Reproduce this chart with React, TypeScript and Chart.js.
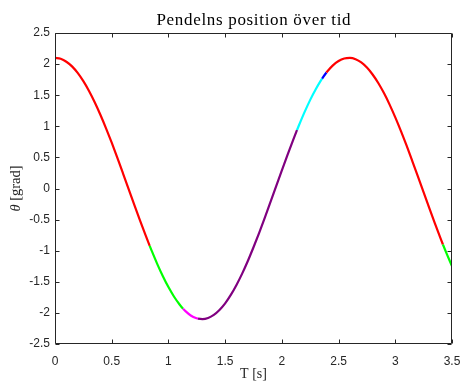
import React, { useEffect, useRef } from "react";
import { Chart, registerables } from "chart.js";

Chart.register(...registerables);

// Time samples [s] (including the points where the colour changes)
const timeS = [
  0, 0.05, 0.1, 0.15, 0.2, 0.25, 0.3, 0.35, 0.4, 0.45, 0.5, 0.55, 0.6, 0.65, 0.7, 0.75, 0.8, 0.835,
  0.85, 0.9, 0.95, 1.0, 1.05, 1.1, 1.129, 1.15, 1.2, 1.25, 1.261, 1.3, 1.35, 1.4, 1.45, 1.5, 1.55,
  1.6, 1.65, 1.7, 1.75, 1.8, 1.85, 1.9, 1.95, 2.0, 2.05, 2.1, 2.134, 2.15, 2.2, 2.25, 2.3, 2.35,
  2.355, 2.393, 2.4, 2.45, 2.5, 2.55, 2.6, 2.65, 2.7, 2.75, 2.8, 2.85, 2.9, 2.95, 3.0, 3.05, 3.1,
  3.15, 3.2, 3.25, 3.3, 3.35, 3.4, 3.42, 3.45, 3.5,
];

// Pendulum angle [grad]
const thetaGrad = [
  2.1, 2.085, 2.038, 1.963, 1.858, 1.725, 1.568, 1.387, 1.186, 0.968, 0.736, 0.492, 0.241, -0.013,
  -0.267, -0.517, -0.759, -0.923, -0.99, -1.207, -1.406, -1.585, -1.74, -1.869, -1.932, -1.971,
  -2.045, -2.087, -2.093, -2.1, -2.081, -2.032, -1.953, -1.846, -1.711, -1.551, -1.369, -1.166,
  -0.945, -0.712, -0.467, -0.216, 0.038, 0.292, 0.542, 0.783, 0.941, 1.013, 1.228, 1.425, 1.601,
  1.754, 1.768, 1.865, 1.881, 1.98, 2.05, 2.09, 2.099, 2.078, 2.026, 1.944, 1.833, 1.696, 1.534,
  1.349, 1.144, 0.923, 0.688, 0.442, 0.191, -0.064, -0.317, -0.566, -0.807, -0.9, -1.035, -1.249,
];

// Colour segments: start time of each segment and its colour
const segmentStarts = [0, 0.835, 1.129, 1.261, 2.134, 2.355, 2.393, 3.42];
const segmentColors = ["#ff0000", "#00ff00", "#ff00ff", "#800080", "#00ffff", "#0000ff", "#ff0000", "#00ff00"];

const xTicks = [0, 0.5, 1, 1.5, 2, 2.5, 3, 3.5];
const yTicks = [-2.5, -2, -1.5, -1, -0.5, 0, 0.5, 1, 1.5, 2, 2.5];

const titleText = "Pendelns position över tid";
const xLabelText = "T [s]";
const yLabelSymbol = "θ";
const yLabelUnit = " [grad]";

function colorAt(x: number): string {
  let c = segmentColors[0];
  for (let i = 0; i < segmentStarts.length; i++) {
    if (x >= segmentStarts[i]) c = segmentColors[i];
  }
  return c;
}

const decorations = {
  id: "decorations",
  afterDraw(chart: any) {
    const { ctx, chartArea: a, scales } = chart;
    ctx.save();
    const L = Math.round(a.left) + 0.5;
    const R = Math.round(a.right) - 0.5;
    const T = Math.round(a.top) + 0.5;
    const B = Math.round(a.bottom) - 0.5;
    ctx.strokeStyle = "#262626";
    ctx.lineWidth = 1;
    ctx.beginPath();
    ctx.rect(L, T, R - L, B - T);
    const tl = 4;
    xTicks.forEach((v) => {
      const px = Math.round(scales.x.getPixelForValue(v)) + 0.5;
      ctx.moveTo(px, B);
      ctx.lineTo(px, B - tl);
      ctx.moveTo(px, T);
      ctx.lineTo(px, T + tl);
    });
    yTicks.forEach((v) => {
      const py = Math.round(scales.y.getPixelForValue(v)) + 0.5;
      ctx.moveTo(L, py);
      ctx.lineTo(L + tl, py);
      ctx.moveTo(R, py);
      ctx.lineTo(R - tl, py);
    });
    ctx.stroke();

    const cx = (a.left + a.right) / 2;
    ctx.fillStyle = "#000000";
    ctx.textAlign = "center";
    ctx.textBaseline = "alphabetic";
    ctx.font = '17px "Liberation Serif"';
    const rawW = ctx.measureText(titleText).width;
    const targetW = 194;
    const spacing = Math.max(0, (targetW - rawW) / (titleText.length - 1));
    (ctx as any).letterSpacing = spacing.toFixed(2) + "px";
    ctx.fillText(titleText, cx + spacing / 2, 25);
    (ctx as any).letterSpacing = "0px";

    ctx.fillStyle = "#262626";
    ctx.font = '14px "Liberation Serif"';
    ctx.fillText(xLabelText, cx, 378);

    ctx.translate(19.5, (a.top + a.bottom) / 2);
    ctx.rotate(-Math.PI / 2);
    const fs = 14.5;
    ctx.font = `italic ${fs}px "Liberation Serif"`;
    const w1 = ctx.measureText(yLabelSymbol).width;
    ctx.font = `${fs}px "Liberation Serif"`;
    const w2 = ctx.measureText(yLabelUnit).width;
    const start = -(w1 + w2) / 2;
    ctx.textAlign = "left";
    ctx.font = `italic ${fs}px "Liberation Serif"`;
    ctx.fillText(yLabelSymbol, start, 0);
    ctx.font = `${fs}px "Liberation Serif"`;
    ctx.fillText(yLabelUnit, start + w1, 0);
    ctx.restore();
  },
};

export default function App() {
  const ref = useRef<HTMLCanvasElement | null>(null);
  useEffect(() => {
    if (!ref.current) return;
    const points = timeS.map((t, i) => ({ x: t, y: thetaGrad[i] }));
    const tickFont = { family: '"Liberation Sans", Arial, sans-serif', size: 12 };
    const chart = new Chart(ref.current, {
      type: "line",
      data: {
        datasets: [
          {
            data: points,
            borderWidth: 2.2,
            borderColor: "#ff0000",
            pointRadius: 0,
            cubicInterpolationMode: "monotone",
            segment: {
              borderColor: (c: any) => colorAt((c.p0.parsed.x + c.p1.parsed.x) / 2),
            },
          } as any,
        ],
      },
      options: {
        animation: false,
        responsive: false,
        layout: { padding: { top: 33, right: 10, left: 0, bottom: 0 } },
        plugins: { legend: { display: false }, tooltip: { enabled: false }, title: { display: false } },
        scales: {
          x: {
            type: "linear",
            min: 0,
            max: 3.5,
            afterBuildTicks: (s: any) => {
              s.ticks = xTicks.map((v) => ({ value: v }));
            },
            afterFit: (s: any) => {
              s.height = 37;
              s.paddingLeft = 0;
              s.paddingRight = 0;
            },
            ticks: {
              callback: (v: any) => String(v),
              font: tickFont,
              color: "#262626",
              padding: 10,
              maxRotation: 0,
              autoSkip: false,
            },
            grid: { display: false, drawTicks: false },
            border: { display: false },
          },
          y: {
            type: "linear",
            min: -2.5,
            max: 2.5,
            afterBuildTicks: (s: any) => {
              s.ticks = yTicks.map((v) => ({ value: v }));
            },
            afterFit: (s: any) => {
              s.width = 55;
              s.paddingTop = 0;
              s.paddingBottom = 0;
            },
            ticks: {
              callback: (v: any) => String(v),
              font: tickFont,
              color: "#262626",
              padding: 5,
              autoSkip: false,
            },
            grid: { display: false, drawTicks: false },
            border: { display: false },
          },
        },
      } as any,
      plugins: [decorations],
    });
    return () => chart.destroy();
  }, []);
  return (
    <div style={{ position: "fixed", left: 0, top: 0, width: 462, height: 381, background: "#ffffff" }}>
      <canvas ref={ref} width={462} height={381} style={{ display: "block" }} />
    </div>
  );
}
